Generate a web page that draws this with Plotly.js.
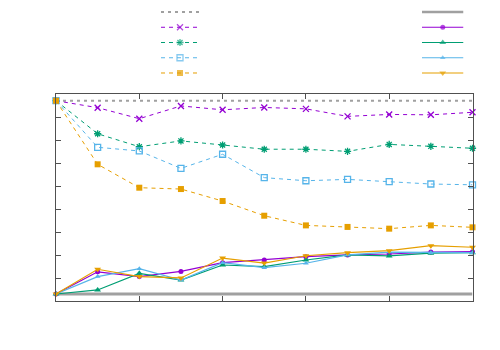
<!DOCTYPE html>
<html>
<head>
<meta charset="utf-8">
<script src="https://cdn.plot.ly/plotly-3.0.1.min.js"></script>
<style>html,body{margin:0;padding:0;background:#fff;}#chart{width:500px;height:350px;}</style>
</head>
<body>
<div id="chart"></div>
<script>
// ---- data ----
const steps = [0, 1, 2, 3, 4, 5, 6, 7, 8, 9, 10];

const dashedGray   = [1, 1, 1, 1, 1, 1, 1, 1, 1, 1, 1];
const dashedPurple = [1, 0.964, 0.907, 0.973, 0.953, 0.965, 0.958, 0.919, 0.929, 0.927, 0.940];
const dashedGreen  = [1, 0.829, 0.762, 0.792, 0.771, 0.749, 0.749, 0.738, 0.774, 0.764, 0.754];
const dashedBlue   = [1, 0.759, 0.740, 0.650, 0.723, 0.602, 0.586, 0.593, 0.581, 0.569, 0.565];
const dashedOrange = [1, 0.671, 0.550, 0.543, 0.481, 0.405, 0.355, 0.347, 0.338, 0.355, 0.345];

const solidGray    = [0, 0, 0, 0, 0, 0, 0, 0, 0, 0, 0];
const solidPurple  = [0, 0.115, 0.090, 0.117, 0.162, 0.176, 0.193, 0.202, 0.207, 0.217, 0.219];
const solidGreen   = [0, 0.021, 0.107, 0.072, 0.150, 0.142, 0.176, 0.202, 0.197, 0.211, 0.214];
const solidBlue    = [0, 0.090, 0.131, 0.072, 0.162, 0.136, 0.159, 0.202, 0.217, 0.214, 0.214];
const solidOrange  = [0, 0.128, 0.090, 0.083, 0.186, 0.160, 0.198, 0.214, 0.224, 0.250, 0.242];

const legendSample = [0, 0.5, 1];

// ---- styles ----
const GRAY = '#a0a0a0', PURPLE = '#9400d3', GREEN = '#009e73', BLUE = '#56b4e9', ORANGE = '#e69f00';
const DASH = '4px,4px', DOT = '3px,4px';

const dashedSeries = [
  {y: dashedGray,   color: GRAY,   dash: DOT,  width: 2,   symbol: null},
  {y: dashedPurple, color: PURPLE, dash: DASH, width: 1,   symbol: 'x-thin-open', size: 6},
  {y: dashedGreen,  color: GREEN,  dash: DASH, width: 1,   symbol: 'asterisk-open', size: 6},
  {y: dashedBlue,   color: BLUE,   dash: DASH, width: 1,   symbol: 'square-open', size: 6},
  {y: dashedOrange, color: ORANGE, dash: DASH, width: 1,   symbol: 'square', size: 6}
];
const solidSeries = [
  {y: solidGray,   color: GRAY,   dash: 'solid', width: 3, symbol: null},
  {y: solidPurple, color: PURPLE, dash: 'solid', width: 1.2, symbol: 'circle', size: 5},
  {y: solidGreen,  color: GREEN,  dash: 'solid', width: 1.2, symbol: 'triangle-up', size: 6},
  {y: solidBlue,   color: BLUE,   dash: 'solid', width: 1.2, symbol: 'triangle-up', size: 5},
  {y: solidOrange, color: ORANGE, dash: 'solid', width: 1.2, symbol: 'triangle-down', size: 6}
];

function markerOf(s, sizes) {
  if (!s.symbol) return {size: 0, opacity: 0};
  const open = s.symbol.indexOf('open') >= 0;
  return {
    symbol: s.symbol, size: sizes || s.size, color: s.color,
    line: {color: s.color, width: open ? 1.3 : 0}
  };
}

const traces = [];
[dashedSeries, solidSeries].forEach(group => group.forEach(s => {
  traces.push({
    x: steps, y: s.y, type: 'scatter', mode: s.symbol ? 'lines+markers' : 'lines',
    line: {color: s.color, width: s.width, dash: s.dash},
    marker: markerOf(s), showlegend: false, hoverinfo: 'skip', cliponaxis: false
  });
}));

// legend samples (two columns, no labels)
[[dashedSeries, 'x2'], [solidSeries, 'x3']].forEach(([group, xa]) => group.forEach((s, row) => {
  traces.push({
    x: legendSample, y: legendSample.map(() => row), xaxis: xa, yaxis: 'y2',
    type: 'scatter', mode: s.symbol ? 'lines+markers' : 'lines',
    line: {color: s.color, width: s.width === 3 ? 2.5 : s.width, dash: s.dash},
    marker: s.symbol ? markerOf(s, [0, s.size, 0]) : {size: 0},
    showlegend: false, hoverinfo: 'skip', cliponaxis: false
  });
}));

const AX = '#505050';
const layout = {
  width: 500, height: 350, autosize: false,
  margin: {l: 0, r: 0, t: 0, b: 0, pad: 0},
  paper_bgcolor: '#fff', plot_bgcolor: '#fff',
  showlegend: false,
  xaxis: {
    domain: [0.112, 0.945], range: [0, 10], tick0: 0, dtick: 2,
    showgrid: false, zeroline: false, showline: true, linecolor: AX, linewidth: 1,
    mirror: 'ticks', ticks: 'inside', ticklen: 5, tickcolor: AX, showticklabels: false
  },
  yaxis: {
    domain: [0.14, 0.7314], range: [-0.0362, 1.0347], tick0: -0.0362, dtick: 0.11899,
    showgrid: false, zeroline: false, showline: true, linecolor: AX, linewidth: 1,
    mirror: 'ticks', ticks: 'inside', ticklen: 5, tickcolor: AX, showticklabels: false
  },
  xaxis2: {domain: [0.322, 0.398], range: [0, 1], anchor: 'y2', visible: false, fixedrange: true},
  xaxis3: {domain: [0.844, 0.927], range: [0, 1], anchor: 'y2', visible: false, fixedrange: true},
  yaxis2: {domain: [0.7697, 0.9874], range: [4.5, -0.5], anchor: 'x2', visible: false, fixedrange: true}
};

Plotly.newPlot('chart', traces, layout, {staticPlot: true, displayModeBar: false});
</script>
</body>
</html>
